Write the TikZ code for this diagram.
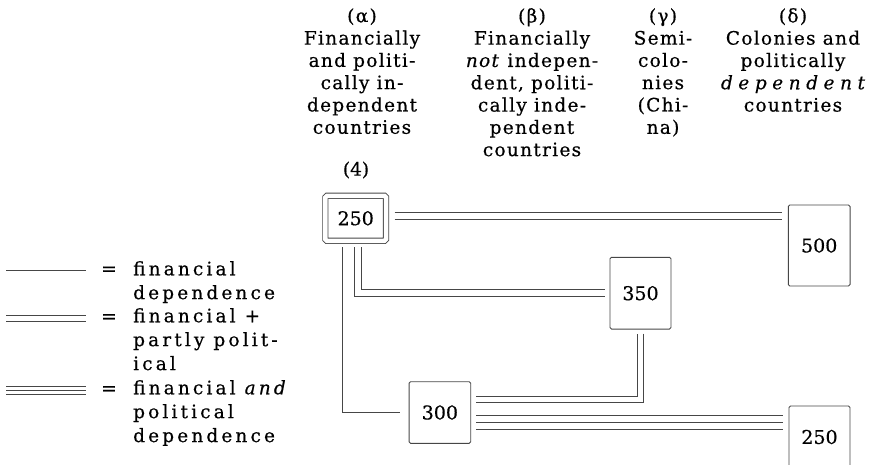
\documentclass[tikz,border=0pt]{standalone}
\usepackage{fontspec}
\setmainfont{DejaVu Serif}[FakeBold=0.5]
\newfontfamily\headfont[LetterSpace=7, FakeBold=0.5]{DejaVu Serif}
\newfontfamily\keyfont[LetterSpace=17, FakeBold=0.5]{DejaVu Serif}
\definecolor{inkgray}{RGB}{70, 70, 70}
\usetikzlibrary{positioning, calc}

\begin{document}
\begin{tikzpicture}[x=1pt, y=-1pt,
  box/.style={draw=inkgray, line width=0.9pt, rounded corners=1.5pt, inner sep=0pt, font=\fontsize{19}{22}\selectfont},
  oneline/.style={draw=inkgray, line width=0.9pt},
  twoline/.style={draw=inkgray, line width=0.9pt, double, double distance=5.8pt},
  threeline/.style={draw=none, preaction={draw=inkgray, line width=0.9pt, double, double distance=13.7pt}, postaction={draw=inkgray, line width=0.9pt}},
  head/.style={align=center, inner sep=0pt, anchor=north, font=\headfont\fontsize{18.5}{22.3}\selectfont},
  key/.style={align=left, inner sep=0pt, anchor=north west, font=\keyfont\fontsize{18.5}{23.9}\selectfont}]
  \useasboundingbox (0,0) rectangle (872,465);

  % Column heads
  \node[head] (alpha) at (362, 8) {(α)\\Financially\\and politi-\\cally in-\\dependent\\countries};
  \node[head] (beta) at (532, 8) {(β)\\Financially\\\textit{not} indepen-\\dent, politi-\\cally inde-\\pendent\\countries};
  \node[head] (gamma) at (663, 8) {(γ)\\Semi-\\colo-\\nies\\(Chi-\\na)};
  \node[head] (delta) at (793, 8) {(δ)\\Colonies and\\politically\\{\itshape\addfontfeature{LetterSpace=30}dependent}\\countries};

  % Countries
  \node[font=\fontsize{18.5}{22}\selectfont] (four) at (356, 170) {(4)};
  \node[box, double, double distance=4.4pt, minimum width=60.7pt, minimum height=45pt] (a250) at (355.7, 218.3) {250};
  \node[box, minimum width=61.7pt, minimum height=81pt] (b500) at (819.2, 245.5) {500};
  \node[box, minimum width=61pt, minimum height=71.7pt] (c350) at (640.5, 293.2) {350};
  \node[box, minimum width=61.7pt, minimum height=61.6pt] (d300) at (439.9, 412.5) {300};
  \node[box, minimum width=61pt, minimum height=62pt] (e250) at (819.5, 437) {250};

  % Dependences
  \coordinate (t1) at ([xshift=8pt, yshift=-1.4pt]a250.east);
  \draw[threeline] (t1) -- ([xshift=-6pt]b500.west |- t1);
  \draw[twoline] ([xshift=2pt, yshift=-6pt]a250.south) |- ([xshift=-5pt]c350.west);
  \draw[oneline] ([xshift=-13pt, yshift=-6pt]a250.south) |- ([xshift=-9pt]d300.west);
  \draw[twoline] ([yshift=-4pt]c350.south) |- ([xshift=5pt, yshift=13pt]d300.east);
  \coordinate (t2) at ([xshift=5pt, yshift=-10pt]d300.east);
  \draw[threeline] (t2) -- ([xshift=-6pt]e250.west |- t2);

  % Key
  \node[key] (k1) at (133, 261) {financial\\dependence};
  \node[key] (k2) at (133, 308) {financial +\\partly polit-\\ical};
  \node[key] (k3) at (133, 380) {financial \textit{and}\\political\\dependence};
  \node[font=\fontsize{18.5}{22}\selectfont, anchor=base] (eq1) at (109, 275) {=};
  \node[font=\fontsize{18.5}{22}\selectfont, anchor=base] (eq2) at (109, 322.5) {=};
  \node[font=\fontsize{18.5}{22}\selectfont, anchor=base] (eq3) at (109, 394.5) {=};
  \draw[oneline] ([xshift=-12pt]eq1.west) -- ++(-80, 0);
  \draw[oneline, double, double distance=4.8pt] ([xshift=-12pt]eq2.west) -- ++(-80, 0);
  \draw[draw=none, preaction={oneline, double, double distance=7.5pt}, postaction={oneline}] ([xshift=-12pt]eq3.west) -- ++(-80, 0);
\end{tikzpicture}
\end{document}
